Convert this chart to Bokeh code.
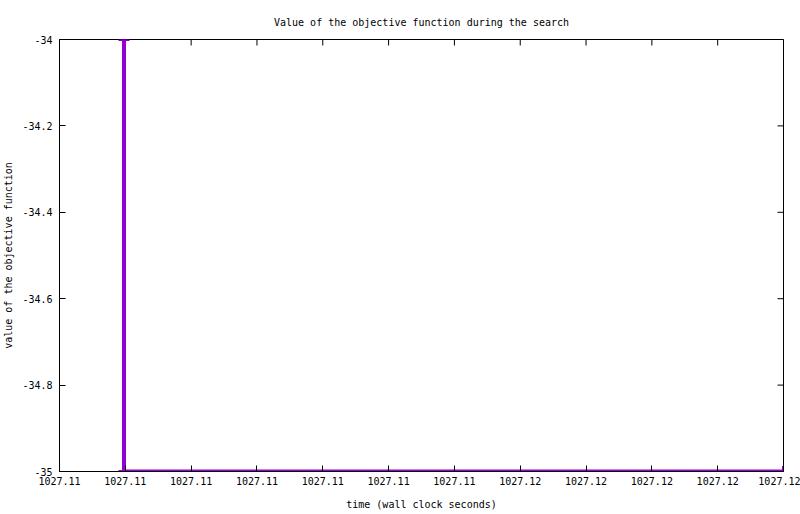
import math
from bokeh.plotting import figure
from bokeh.models import Range1d, FixedTicker
from bokeh.embed import file_html
from bokeh.resources import INLINE

# ---- data ----
times = [1027.11249, 1027.11249, 1027.1175]
objective = [-34.0, -35.0, -35.0]

x_ticks = [1027.112, 1027.1125, 1027.113, 1027.1135, 1027.114, 1027.1145,
           1027.115, 1027.1155, 1027.116, 1027.1165, 1027.117, 1027.1175]
x_tick_labels = ["1027.11", "1027.11", "1027.11", "1027.11", "1027.11", "1027.11",
                 "1027.11", "1027.12", "1027.12", "1027.12", "1027.12", "1027.12"]
y_ticks = [-35.0, -34.8, -34.6, -34.4, -34.2, -34.0]
y_tick_labels = ["-35", "-34.8", "-34.6", "-34.4", "-34.2", "-34"]

title_text = "Value of the objective function during the search"
x_label = "time (wall clock seconds)"
y_label = "value of the objective function"

FONT = "DejaVu Sans Mono"
FS = "10px"
COLOR = "#9400D3"

p = figure(width=800, height=514, output_backend="svg", toolbar_location=None,
           x_range=Range1d(x_ticks[0], x_ticks[-1]),
           y_range=Range1d(y_ticks[0], y_ticks[-1]),
           title=title_text, x_axis_label=x_label, y_axis_label=y_label,
           min_border_left=58, min_border_right=17, min_border_top=39,
           min_border_bottom=43)

p.title.align = "center"
p.title.text_font = FONT
p.title.text_font_size = FS
p.title.text_font_style = "normal"
p.title.text_color = "black"
p.title.standoff = 23

p.grid.visible = False
p.outline_line_color = "black"
p.outline_line_width = 1
p.background_fill_color = "white"
p.border_fill_color = "white"

xt = FixedTicker(ticks=x_ticks, minor_ticks=[])
yt = FixedTicker(ticks=y_ticks, minor_ticks=[])

def style(ax):
    ax.axis_line_color = "black"
    ax.major_tick_line_color = "black"
    ax.major_tick_in = 6
    ax.major_tick_out = 0
    ax.minor_tick_line_color = None
    ax.major_label_text_font = FONT
    ax.major_label_text_font_size = FS
    ax.major_label_text_color = "black"
    ax.axis_label_text_font = FONT
    ax.axis_label_text_font_size = FS
    ax.axis_label_text_font_style = "normal"
    ax.axis_label_text_color = "black"

xa = p.xaxis[0]
xa.ticker = xt
xa.major_label_overrides = {t: l for t, l in zip(x_ticks, x_tick_labels)}
style(xa)
xa.major_label_standoff = 5
xa.axis_label_standoff = 11

ya = p.yaxis[0]
ya.ticker = yt
ya.major_label_overrides = {t: l for t, l in zip(y_ticks, y_tick_labels)}
style(ya)
ya.major_label_standoff = 7
ya.axis_label_standoff = 5

# mirrored inward ticks on the top and right edges (half clipped by the frame)
p.scatter(x_ticks, [y_ticks[-1]] * len(x_ticks), marker="dash", angle=math.pi / 2,
          size=12, line_color="black", line_width=1)
p.scatter([x_ticks[-1]] * len(y_ticks), y_ticks, marker="dash",
          size=12, line_color="black", line_width=1)

p.line(times, objective, line_width=4, line_color=COLOR)
p.scatter(times, objective, marker="cross", size=11, line_width=3, line_color=COLOR)

open("out.html", "w").write(file_html(p, INLINE))
